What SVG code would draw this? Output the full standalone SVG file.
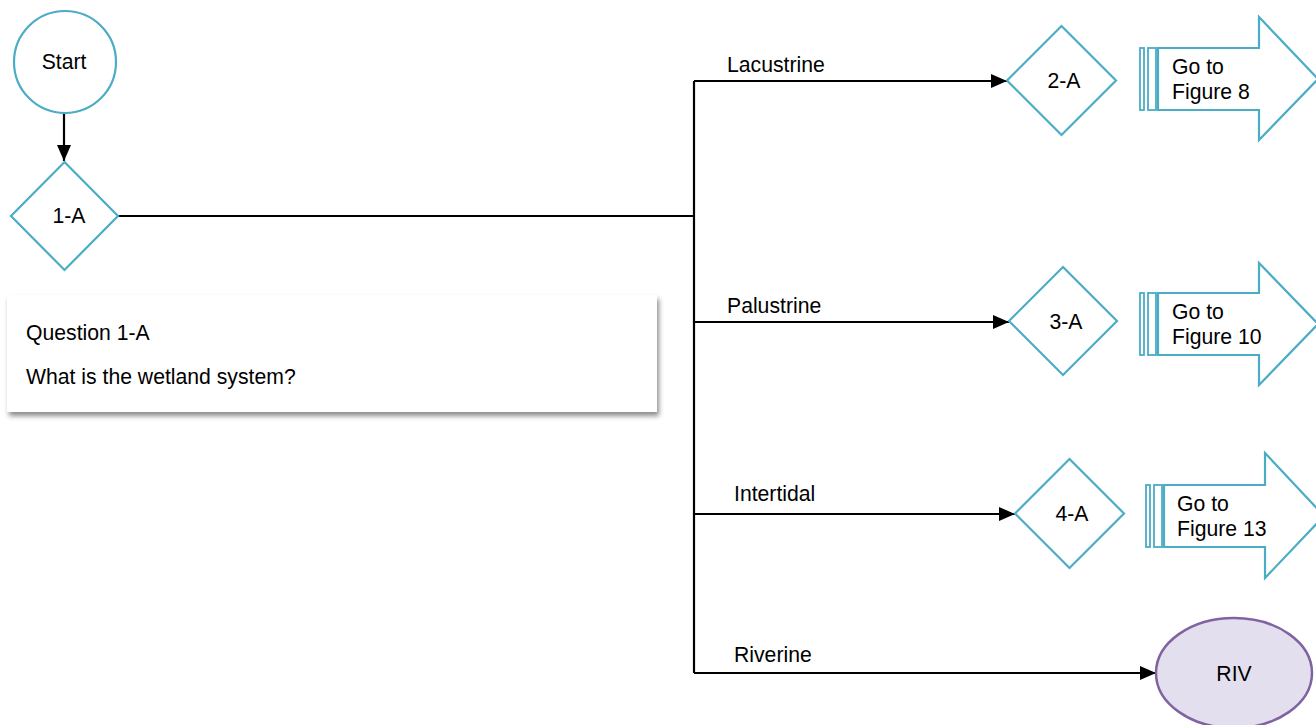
<svg xmlns="http://www.w3.org/2000/svg" width="1316" height="725" viewBox="0 0 1316 725">
  <defs>
    <marker id="arrow" viewBox="0 0 16 14" refX="16" refY="7" markerWidth="16" markerHeight="14" markerUnits="userSpaceOnUse" orient="auto">
      <path d="M0,0 L16,7 L0,14 Z" fill="#000"/>
    </marker>
    <filter id="shadow" x="-5%" y="-20%" width="110%" height="150%">
      <feDropShadow dx="2" dy="4" stdDeviation="2.5" flood-color="#000" flood-opacity="0.45"/>
    </filter>
    <style>
      text { font-family: "Liberation Sans", Arial, sans-serif; font-size: 21.2px; fill: #000; }
      .shape { fill: #fff; stroke: #4bacc6; stroke-width: 2.2; }
      .bar { fill: #fff; stroke: #4bacc6; stroke-width: 1.8; }
      .conn { fill: none; stroke: #000; stroke-width: 2.2; }
      .mid { text-anchor: middle; }
    </style>
  </defs>

  <!-- connectors -->
  <g id="connectors">
    <path class="conn" d="M64,113 V161" marker-end="url(#arrow)"/>
    <path class="conn" d="M118,216 H694"/>
    <path class="conn" d="M694,81 V673"/>
    <path class="conn" d="M694,81 H1007" marker-end="url(#arrow)"/>
    <path class="conn" d="M694,322 H1009" marker-end="url(#arrow)"/>
    <path class="conn" d="M694,514 H1015" marker-end="url(#arrow)"/>
    <path class="conn" d="M694,673 H1156" marker-end="url(#arrow)"/>
    <text x="727" y="72">Lacustrine</text>
    <text x="727" y="313">Palustrine</text>
    <text x="734" y="501">Intertidal</text>
    <text x="734" y="662">Riverine</text>
  </g>

  <g id="start">
    <circle class="shape" cx="65" cy="62" r="51"/>
    <text class="mid" x="64" y="69">Start</text>
  </g>

  <g id="q1a">
    <path class="shape" d="M64.5,162 L118,216 L64.5,270 L11,216 Z"/>
    <text class="mid" x="69" y="223">1-A</text>
  </g>

  <g id="question-box">
    <rect x="7" y="295" width="650" height="117" fill="#fff" filter="url(#shadow)"/>
    <text x="26" y="340">Question 1-A</text>
    <text x="26" y="384">What is the wetland system?</text>
  </g>

  <g id="q2a">
    <path class="shape" d="M1061.5,26 L1116,80.5 L1061.5,135 L1007,80.5 Z"/>
    <text class="mid" x="1064" y="88">2-A</text>
  </g>

  <g id="goto-fig8">
    <rect class="bar" x="1140" y="48" width="4" height="62"/>
    <rect class="bar" x="1148" y="48" width="8" height="62"/>
    <path class="shape" d="M1158,48 H1259 V17 L1318,79 L1259,140 V110 H1158 Z"/>
    <text x="1172" y="74">Go to</text>
    <text x="1172" y="99">Figure 8</text>
  </g>

  <g id="q3a">
    <path class="shape" d="M1063,267 L1117,321 L1063,375 L1009,321 Z"/>
    <text class="mid" x="1066" y="329">3-A</text>
  </g>

  <g id="goto-fig10">
    <rect class="bar" x="1140" y="293" width="4" height="62"/>
    <rect class="bar" x="1148" y="293" width="8" height="62"/>
    <path class="shape" d="M1158,293 H1259 V263 L1318,324 L1259,385 V355 H1158 Z"/>
    <text x="1172" y="319">Go to</text>
    <text x="1172" y="344">Figure 10</text>
  </g>

  <g id="q4a">
    <path class="shape" d="M1069.5,459 L1124,513.5 L1069.5,568 L1015,513.5 Z"/>
    <text class="mid" x="1072" y="521">4-A</text>
  </g>

  <g id="goto-fig13">
    <rect class="bar" x="1146" y="485" width="4" height="62"/>
    <rect class="bar" x="1154" y="485" width="8" height="62"/>
    <path class="shape" d="M1164,485 H1265 V453 L1324,516 L1265,578 V547 H1164 Z"/>
    <text x="1177" y="511">Go to</text>
    <text x="1177" y="536">Figure 13</text>
  </g>

  <g id="riv">
    <ellipse cx="1234" cy="673" rx="78" ry="55" fill="#e4dfee" stroke="#8064a2" stroke-width="2.5"/>
    <text class="mid" x="1234" y="681">RIV</text>
  </g>
</svg>
